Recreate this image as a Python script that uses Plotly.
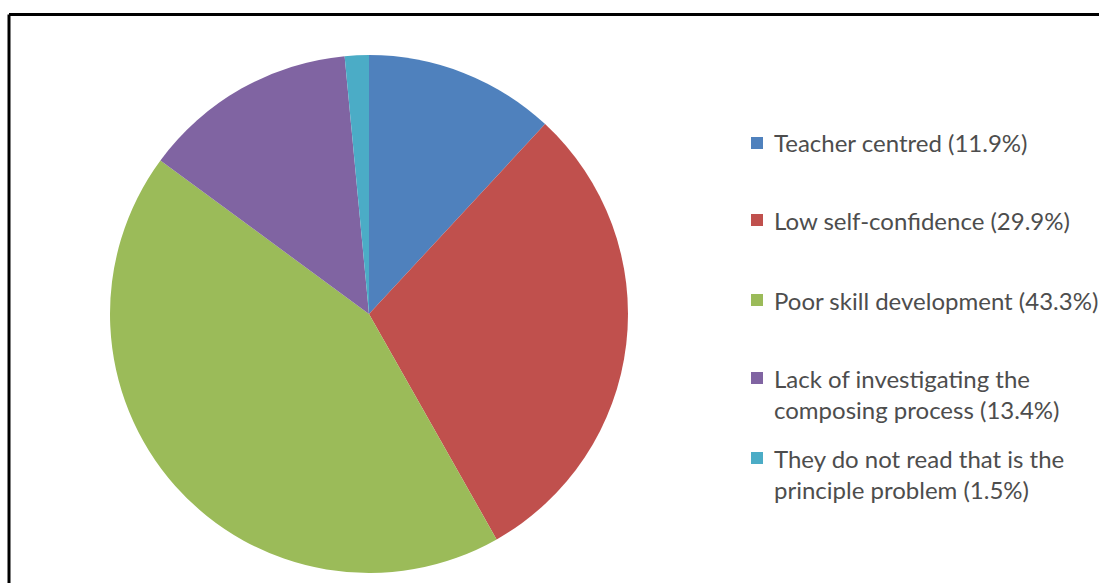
import plotly.graph_objects as go

# ---- data ----
categories = [
    "Teacher centred",
    "Low self-confidence",
    "Poor skill development",
    "Lack of investigating the<br>composing process",
    "They do not read that is the<br>principle problem",
]
values = [11.9, 29.9, 43.3, 13.4, 1.5]
colors = ["#4F81BD", "#C0504D", "#9BBB59", "#8064A2", "#4BACC6"]

W, H = 1099, 583


def px(x):
    return x / W


def py(y):
    return 1 - y / H


legend_labels = [f"{c} ({v}%)" for c, v in zip(categories, values)]

fig = go.Figure(
    go.Pie(
        labels=legend_labels,
        values=values,
        sort=False,
        direction="clockwise",
        rotation=0,
        marker=dict(colors=colors, line=dict(width=0)),
        textinfo="none",
        hoverinfo="label",
        showlegend=False,
        domain=dict(x=[px(110), px(628)], y=[py(573), py(55)]),
    )
)

# ---- manual legend (layout) ----
first_line_y = [143, 220, 300, 378, 458]
line_gap = 31
text_x = 772
sq = 12
annotations = []
shapes = []
for lab, col, y0 in zip(legend_labels, colors, first_line_y):
    lines = lab.split("<br>")
    for i, ln in enumerate(lines):
        annotations.append(
            dict(
                x=px(text_x), y=py(y0 + i * line_gap),
                xref="paper", yref="paper",
                xanchor="left", yanchor="middle",
                text=ln, showarrow=False,
                font=dict(family="Lato", size=24, color="#4d4d4d"),
            )
        )
    shapes.append(
        dict(
            type="rect", xref="paper", yref="paper",
            x0=px(751), x1=px(751 + sq),
            y0=py(y0 + sq / 2), y1=py(y0 - sq / 2),
            fillcolor=col, line=dict(width=0),
        )
    )

# outer frame: only top and left edges are inside the picture
frame = dict(color="black", width=3)
shapes.append(dict(type="line", xref="paper", yref="paper",
                   x0=px(9), x1=1.2, y0=py(14.5), y1=py(14.5), line=frame))
shapes.append(dict(type="line", xref="paper", yref="paper",
                   x0=px(9), x1=px(9), y0=-0.2, y1=py(14.5), line=frame))

fig.update_layout(
    width=W, height=H,
    margin=dict(l=0, r=0, t=0, b=0),
    paper_bgcolor="white",
    plot_bgcolor="white",
    annotations=annotations,
    shapes=shapes,
)

fig.write_html(
    "out.html",
    config={"displayModeBar": False},
    post_script="document.body.style.margin='0';document.body.style.overflow='hidden';",
)
